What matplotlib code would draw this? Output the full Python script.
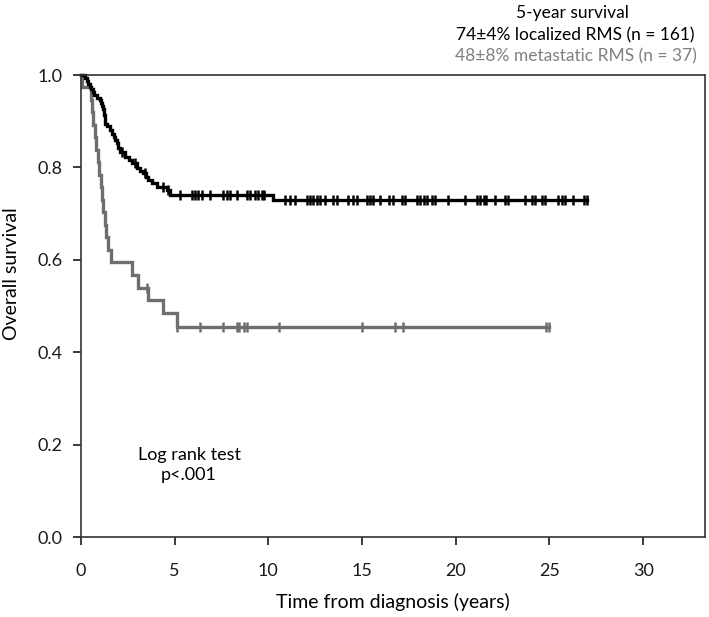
import matplotlib
matplotlib.use("Agg")
import matplotlib.pyplot as plt

plt.rcParams['font.family'] = ['Lato', 'DejaVu Sans']

# localized RMS (n = 161): step times and survival after each step
loc_times = [0.0, 0.2, 0.3, 0.4, 0.48, 0.55, 0.62, 0.7, 0.85, 1.0, 1.08, 1.12,
             1.18, 1.22, 1.25, 1.28, 1.4, 1.55, 1.65, 1.75, 1.81, 1.9, 2.0,
             2.08, 2.35, 2.55, 2.7, 2.97, 3.15, 3.3, 3.45, 3.58, 3.8, 4.04,
             4.57, 4.75, 10.27, 27.0]
loc_surv = [1.0, 0.994, 0.988, 0.981, 0.975, 0.969, 0.963, 0.957, 0.951, 0.945,
            0.939, 0.932, 0.926, 0.920, 0.913, 0.895, 0.889, 0.881, 0.872,
            0.865, 0.859, 0.852, 0.843, 0.834, 0.823, 0.816, 0.810, 0.799,
            0.793, 0.787, 0.780, 0.773, 0.766, 0.758, 0.751, 0.740, 0.730, 0.730]
loc_censor = [2.2, 2.9, 3.4, 4.4, 4.65, 5.29, 5.91, 6.09, 6.26, 6.44, 6.89, 7.6,
              7.78, 7.96, 8.31, 8.85, 9.02, 9.29, 9.47, 9.65, 9.77, 10.89,
              11.16, 11.43, 12.05, 12.22, 12.4, 12.58, 12.76, 13.03, 13.47,
              13.65, 14.27, 14.54, 14.72, 15.25, 15.43, 15.6, 15.96, 16.41,
              16.67, 17.12, 17.3, 17.92, 18.1, 18.28, 18.45, 18.72, 18.9,
              19.61, 20.5, 21.13, 21.3, 21.48, 21.62, 22.1, 22.64, 22.81, 23.7,
              24.06, 24.24, 24.6, 24.77, 25.48, 25.66, 25.84, 26.28, 26.82, 27.0]

# metastatic RMS (n = 37)
met_times = [0.0, 0.05, 0.52, 0.6, 0.66, 0.75, 0.82, 0.9, 0.98, 1.05, 1.12, 1.2,
             1.27, 1.33, 1.45, 1.6, 2.7, 3.06, 3.6, 4.4, 5.1, 25.0]
met_surv = [1.0, 0.973, 0.946, 0.919, 0.892, 0.865, 0.838, 0.811, 0.784, 0.757,
            0.730, 0.703, 0.676, 0.649, 0.622, 0.596, 0.567, 0.540, 0.513,
            0.484, 0.455, 0.455]
met_censor = [3.5, 5.14, 6.35, 7.6, 8.31, 8.45, 8.7, 8.88, 10.59, 14.98, 16.76,
              17.17, 24.8, 25.0]

x_ticks = [0, 5, 10, 15, 20, 25, 30]
y_ticks = [0.0, 0.2, 0.4, 0.6, 0.8, 1.0]

BLACK = '#000000'
GREY = '#6e6e6e'


def surv_at(times, surv, t):
    val = surv[0]
    for ti, si in zip(times, surv):
        if ti <= t:
            val = si
    return val


fig = plt.figure(figsize=(7.09, 6.17), dpi=100)
ax = fig.add_axes([81 / 709, 80 / 617, 624 / 709, 462 / 617])

for times, surv, cens, col in [(met_times, met_surv, met_censor, GREY),
                               (loc_times, loc_surv, loc_censor, BLACK)]:
    ax.step(times, surv, where='post', color=col, lw=2.4, clip_on=False,
            solid_joinstyle='miter')
    ax.plot(cens, [surv_at(times, surv, t) for t in cens], ls='none',
            marker='|', ms=7, mew=1.8, color=col, clip_on=False)

ax.set_xlim(0, 33.3)
ax.set_ylim(0, 1.0)
ax.set_xticks(x_ticks)
ax.set_yticks(y_ticks)
ax.set_yticklabels([f'{v:.1f}' for v in y_ticks])
ax.tick_params(axis='both', direction='out', length=6, width=1.2,
               labelsize=13, colors='#1a1a1a')
ax.tick_params(axis='x', pad=13)
ax.tick_params(axis='y', pad=7)
for sp in ax.spines.values():
    sp.set_linewidth(1.2)
    sp.set_color('#333333')

ax.set_xlabel('Time from diagnosis (years)', fontsize=14, labelpad=10)
ax.set_ylabel('Overall survival', fontsize=14, labelpad=8)
ax.yaxis.set_label_coords(-0.098, 0.57)

ax.text(5.77, 0.155, 'Log rank test\np<.001', ha='center', va='center',
        fontsize=13, linespacing=1.3)

fig.text(0.808, 0.979, '5-year survival', ha='center', va='center', fontsize=12.5)
fig.text(0.812, 0.943, '74±4% localized RMS (n = 161)', ha='center',
         va='center', fontsize=12.5)
fig.text(0.812, 0.908, '48±8% metastatic RMS (n = 37)', ha='center',
         va='center', fontsize=12.5, color='#808080')

fig.savefig('out.png', dpi=100)
